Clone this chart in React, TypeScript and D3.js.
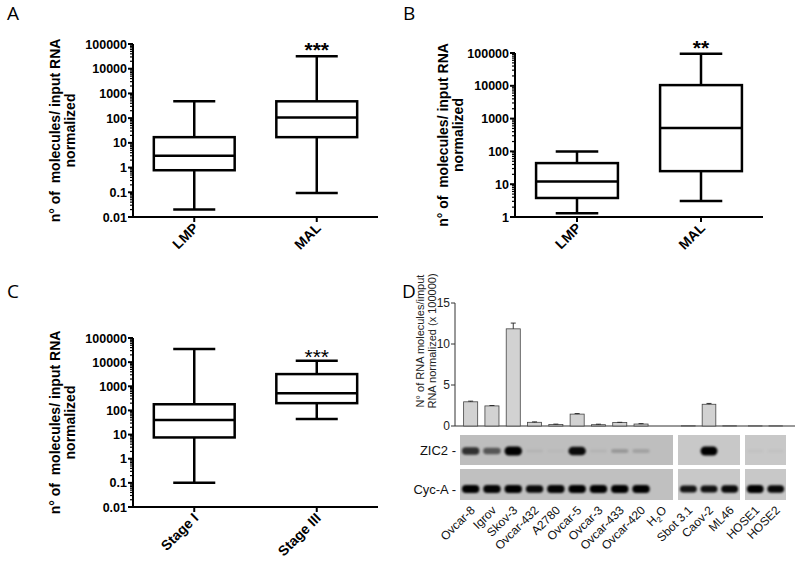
import React from 'react';
import * as d3 from 'd3';

// box plot data: [min, q1, median, q3, max]
const lmpMalCats = ['LMP', 'MAL'];
const stageCats = ['Stage I', 'Stage III'];
const boxA = [
  [0.02, 0.78, 3, 17, 480],
  [0.093, 17, 105, 480, 32000],
];
const boxB = [
  [1.3, 3.8, 12, 44, 100],
  [3.1, 25, 520, 10500, 95000],
];
const boxC = [
  [0.1, 7.6, 40, 180, 35000],
  [44, 200, 520, 3200, 11500],
];
const ticksWide = [0.01, 0.1, 1, 10, 100, 1000, 10000, 100000];
const ticksNarrow = [1, 10, 100, 1000, 10000, 100000];

// panel D
const cellGroups = [
  ['Ovcar-8', 'Igrov', 'Skov-3', 'Ovcar-432', 'A2780', 'Ovcar-5', 'Ovcar-3', 'Ovcar-433', 'Ovcar-420', 'H2O'],
  ['Sbot 3.1', 'Caov-2', 'ML46'],
  ['HOSE1', 'HOSE2'],
];
const rnaValues = [2.95, 2.45, 11.85, 0.45, 0.18, 1.45, 0.16, 0.42, 0.24, 0, 0.03, 2.65, 0.03, 0.02, 0.02];
const rnaErrors = [0.08, 0.05, 0.7, 0.05, 0.05, 0.07, 0.06, 0.03, 0.05, 0, 0, 0.1, 0, 0, 0];
const zic2Band = [0.75, 0.55, 1, 0.05, 0.03, 0.95, 0.05, 0.2, 0.15, 0, 0, 1, 0, 0.03, 0.03];
const cycABand = [1, 0.95, 1, 0.9, 0.95, 1, 1, 1, 1, 0, 0.75, 0.8, 0.9, 1, 0.9];
const barTicks = [0, 5, 10, 15];

const boldFont = '"Liberation Sans", Arial, sans-serif';

interface BoxPanelProps {
  letter: string;
  letterX: number;
  letterY: number;
  x0: number;
  x1: number;
  yTop: number;
  yBot: number;
  ticks: number[];
  cats: string[];
  boxes: number[][];
  stars: string;
  starsY: number;
  starsBold: boolean;
  titleX: number;
}

const BoxPanel: React.FC<BoxPanelProps> = (p) => {
  const y = d3.scaleLog().domain([p.ticks[0], p.ticks[p.ticks.length - 1]]).range([p.yBot, p.yTop]);
  const x = d3.scalePoint<string>().domain(p.cats).range([p.x0, p.x1]).padding(0.5);
  const bw = x.step() * 0.66;
  const cw = bw * 0.52;
  const minor: number[] = [];
  p.ticks.slice(0, -1).forEach((t) => {
    for (let k = 2; k <= 9; k++) minor.push(t * k);
  });
  const midY = (p.yTop + p.yBot) / 2;
  return (
    <g>
      <text x={p.letterX} y={p.letterY} fontFamily='"Open Sans", sans-serif' fontSize={19}>{p.letter}</text>
      {/* axis title */}
      <g transform={`translate(${p.titleX},${midY}) rotate(-90)`} fontFamily={boldFont} fontWeight="bold" fontSize={14} textAnchor="middle">
        <text x={0} y={0} xmlSpace="preserve">{'n° of  molecules/ input RNA'}</text>
        <text x={0} y={15}>normalized</text>
      </g>
      {/* y axis */}
      <line x1={p.x0} x2={p.x0} y1={p.yTop} y2={p.yBot} stroke="#000" strokeWidth={2} />
      {minor.map((m, i) => (
        <line key={'m' + i} x1={p.x0 - 3} x2={p.x0} y1={y(m)} y2={y(m)} stroke="#000" strokeWidth={1.2} />
      ))}
      {p.ticks.map((t) => (
        <g key={t}>
          <line x1={p.x0 - 5} x2={p.x0} y1={y(t)} y2={y(t)} stroke="#000" strokeWidth={2} />
          <text x={p.x0 - 6} y={y(t) + 4.5} textAnchor="end" fontFamily={boldFont} fontWeight="bold" fontSize={12.5}>
            {String(t)}
          </text>
        </g>
      ))}
      {/* x axis */}
      <line x1={p.x0 - 1} x2={p.x1} y1={p.yBot} y2={p.yBot} stroke="#000" strokeWidth={2} />
      {p.cats.map((c) => (
        <g key={c}>
          <line x1={x(c)} x2={x(c)} y1={p.yBot} y2={p.yBot + 5} stroke="#000" strokeWidth={2} />
          <text
            transform={`translate(${(x(c) as number) + 5},${p.yBot + 12}) rotate(-45)`}
            textAnchor="end"
            fontFamily={boldFont}
            fontWeight="bold"
            fontSize={14}
          >
            {c}
          </text>
        </g>
      ))}
      {/* boxes */}
      {p.boxes.map((b, i) => {
        const cx = x(p.cats[i]) as number;
        const [mn, q1, md, q3, mx] = b;
        return (
          <g key={i} stroke="#000" strokeWidth={2.5} fill="none">
            <line x1={cx} x2={cx} y1={y(mx)} y2={y(q3)} />
            <line x1={cx} x2={cx} y1={y(q1)} y2={y(mn)} />
            <line x1={cx - cw / 2} x2={cx + cw / 2} y1={y(mx)} y2={y(mx)} />
            <line x1={cx - cw / 2} x2={cx + cw / 2} y1={y(mn)} y2={y(mn)} />
            <rect x={cx - bw / 2} y={y(q3)} width={bw} height={y(q1) - y(q3)} />
            <line x1={cx - bw / 2} x2={cx + bw / 2} y1={y(md)} y2={y(md)} />
          </g>
        );
      })}
      <text
        x={x(p.cats[1])}
        y={p.starsY}
        textAnchor="middle"
        fontFamily={boldFont}
        fontWeight={p.starsBold ? 'bold' : 'normal'}
        fontSize={21}
      >
        {p.stars}
      </text>
    </g>
  );
};

const PanelD: React.FC = () => {
  const yTop = 303;
  const yBot = 426;
  const axisX = 455;
  const axisEnd = 795;
  const y = d3.scaleLinear().domain([0, 15]).range([yBot, yTop]);
  const groupRanges: [number, number][] = [[460, 673], [678, 740], [745, 786]];
  const zicRow: [number, number] = [435, 465];
  const cycRow: [number, number] = [469, 500];
  const lanes: { name: string; cx: number; bw: number }[] = [];
  cellGroups.forEach((g, gi) => {
    const s = d3.scaleBand<string>().domain(g).range(groupRanges[gi]);
    g.forEach((n) => lanes.push({ name: n, cx: (s(n) as number) + s.bandwidth() / 2, bw: s.bandwidth() }));
  });
  const font = '"Liberation Sans", Arial, sans-serif';
  return (
    <g fontFamily={font}>
      <defs>
        <filter id="bandBlur" x="-30%" y="-60%" width="160%" height="220%">
          <feGaussianBlur stdDeviation={1.1} />
        </filter>
      </defs>
      <text x={402} y={298} fontFamily='"Open Sans", sans-serif' fontSize={19}>D</text>
      <g transform="translate(424,341) rotate(-90)" fontSize={11} textAnchor="middle" fill="#222">
        <text x={0} y={0}>N° of RNA molecules/imput</text>
        <text x={0} y={12}>RNA normalized (x 100000)</text>
      </g>
      <line x1={axisX} x2={axisX} y1={yTop} y2={yBot} stroke="#333" strokeWidth={1} />
      {barTicks.map((t) => (
        <g key={t}>
          <line x1={axisX - 4} x2={axisX} y1={y(t)} y2={y(t)} stroke="#333" strokeWidth={1} />
          <text x={axisX - 5} y={y(t) + 4} textAnchor="end" fontSize={12} fill="#222">{t}</text>
        </g>
      ))}
      <line x1={axisX} x2={axisEnd} y1={yBot} y2={yBot} stroke="#333" strokeWidth={1} />
      {lanes.map((l, i) => {
        const w = l.bw * 0.66;
        const v = rnaValues[i];
        const e = rnaErrors[i];
        return (
          <g key={l.name}>
            {v > 0 && (
              <rect x={l.cx - w / 2} y={y(v)} width={w} height={yBot - y(v)} fill="#d2d2d2" stroke="#444" strokeWidth={0.8} />
            )}
            {e > 0 && (
              <g stroke="#222" strokeWidth={0.9}>
                <line x1={l.cx} x2={l.cx} y1={y(v)} y2={y(v + e)} />
                <line x1={l.cx - 2.5} x2={l.cx + 2.5} y1={y(v + e)} y2={y(v + e)} />
              </g>
            )}
          </g>
        );
      })}
      {/* gels */}
      {groupRanges.map((r, gi) => (
        <g key={gi}>
          <rect x={r[0]} y={zicRow[0]} width={r[1] - r[0]} height={zicRow[1] - zicRow[0]} fill={gi === 0 ? '#bebebe' : '#c8c8c8'} />
          <rect x={r[0]} y={cycRow[0]} width={r[1] - r[0]} height={cycRow[1] - cycRow[0]} fill={gi === 0 ? '#c0c0c0' : '#c8c8c8'} />
        </g>
      ))}
      <g filter="url(#bandBlur)">
        {lanes.map((l, i) => {
          const zi = zic2Band[i];
          const ci = cycABand[i];
          const w = l.bw * 0.82;
          const zh = 3 + 6 * zi;
          const ch = 4 + 4 * ci;
          return (
            <g key={l.name}>
              {zi > 0 && (
                <rect x={l.cx - w / 2} y={451 - zh / 2} width={w} height={zh} rx={zh / 2} fill="#000" opacity={zi} />
              )}
              {ci > 0 && (
                <rect x={l.cx - w / 2} y={489 - ch / 2} width={w} height={ch} rx={ch / 2} fill="#000" opacity={0.6 + 0.4 * ci} />
              )}
            </g>
          );
        })}
      </g>
      <text x={456} y={455} textAnchor="end" fontSize={13} fill="#111">ZIC2 -</text>
      <text x={456} y={494} textAnchor="end" fontSize={13} fill="#111">Cyc-A -</text>
      {lanes.map((l) => (
        <text
          key={l.name}
          transform={`translate(${l.cx + 5},${511}) rotate(-45)`}
          textAnchor="end"
          fontSize={12}
          fill="#111"
        >
          {l.name === 'H2O' ? (
            <>
              H<tspan fontSize={8} dy={3}>2</tspan>
              <tspan dy={-3}>O</tspan>
            </>
          ) : (
            l.name
          )}
        </text>
      ))}
    </g>
  );
};

export default function App() {
  return (
    <div style={{ position: 'absolute', left: 0, top: 0, width: 800, height: 563, background: '#fff' }}>
      <svg width={800} height={563} viewBox="0 0 800 563">
        <rect width={800} height={563} fill="#fff" />
        <BoxPanel
          letter="A" letterX={7} letterY={20}
          x0={133} x1={378} yTop={44} yBot={217}
          ticks={ticksWide} cats={lmpMalCats} boxes={boxA}
          stars="***" starsY={57} starsBold={true} titleX={60}
        />
        <BoxPanel
          letter="B" letterX={403} letterY={20}
          x0={515} x1={763} yTop={53} yBot={217}
          ticks={ticksNarrow} cats={lmpMalCats} boxes={boxB}
          stars="**" starsY={55} starsBold={true} titleX={448}
        />
        <BoxPanel
          letter="C" letterX={7} letterY={298}
          x0={133} x1={378} yTop={338} yBot={507}
          ticks={ticksWide} cats={stageCats} boxes={boxC}
          stars="***" starsY={364} starsBold={false} titleX={60}
        />
        <PanelD />
      </svg>
    </div>
  );
}
